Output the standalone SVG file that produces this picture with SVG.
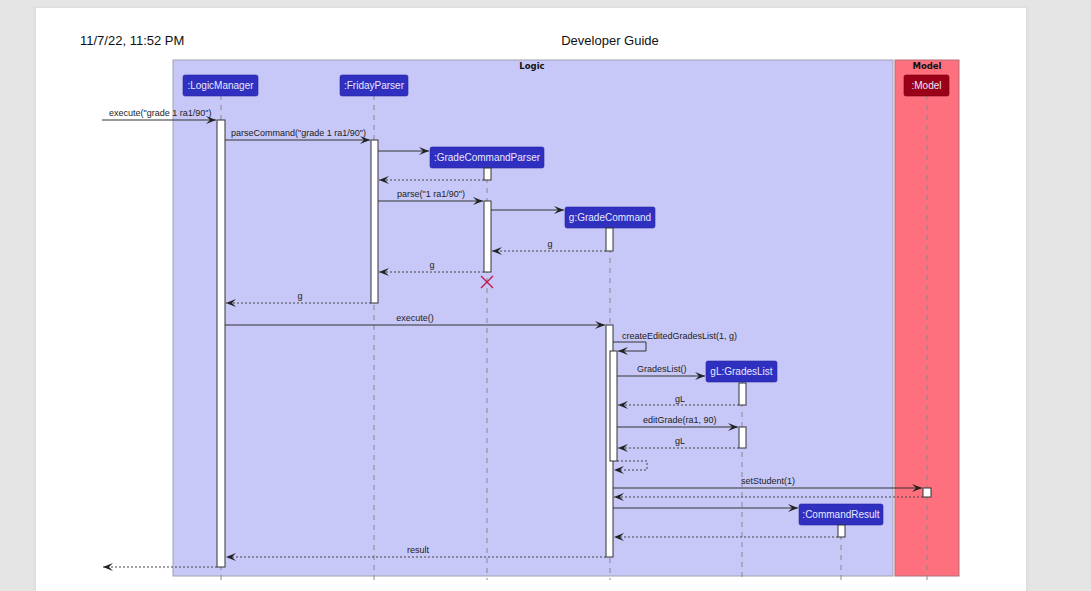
<svg xmlns="http://www.w3.org/2000/svg" width="1091" height="591" viewBox="0 0 1091 591">
<defs>
<style>
.lbl{font-family:"Liberation Sans",Arial,sans-serif;font-size:9px;fill:#222}
.pt{font-family:"Liberation Sans",Arial,sans-serif;font-size:10px;fill:#e8e8ff}
.hdr{font-family:"Liberation Sans",Arial,sans-serif;font-size:13px;fill:#111}
.ttl{font-family:"DejaVu Sans",sans-serif;font-size:8.5px;font-weight:bold;fill:#111}
.life{stroke:#888;stroke-width:1;stroke-dasharray:5,5;fill:none}
.msg{stroke:#333;stroke-width:1;fill:none}
.ret{stroke:#444;stroke-width:1;stroke-dasharray:2,2;fill:none}
.act{fill:#fff;stroke:#333;stroke-width:1}
.pbox{fill:#3030c0;stroke:#2626a0;stroke-width:0.6}
</style>
<marker id="ah" viewBox="0 0 10 8" refX="10" refY="4" markerWidth="10" markerHeight="8" markerUnits="userSpaceOnUse" orient="auto">
<polygon points="0,0 10,4 0,8 4,4" fill="#222"/>
</marker>
</defs>
<rect x="0" y="0" width="1091" height="591" fill="#e5e5e5"/>
<rect x="33" y="6" width="996" height="590" fill="#dcdcdc" opacity="0.6"/>
<rect x="36" y="8" width="990" height="590" fill="#ffffff"/>
<text class="hdr" x="80" y="45">11/7/22, 11:52 PM</text>
<text class="hdr" x="610" y="45" text-anchor="middle">Developer Guide</text>

<g id="box-logic">
<rect x="173" y="60" width="720" height="516" fill="#c8c8f8" stroke="#a0a0b0" stroke-width="1"/>
<text class="ttl" x="532" y="69" text-anchor="middle">Logic</text>
</g>
<g id="box-model">
<rect x="895" y="60" width="64" height="516" fill="#fe707e" stroke="#b07078" stroke-width="1"/>
<text class="ttl" x="927" y="69" text-anchor="middle">Model</text>
</g>

<g id="lifelines">
<line class="life" x1="221" y1="95" x2="221" y2="580"/>
<line class="life" x1="374" y1="95" x2="374" y2="580"/>
<line class="life" x1="487" y1="168" x2="487" y2="580"/>
<line class="life" x1="610" y1="228" x2="610" y2="580"/>
<line class="life" x1="742" y1="382" x2="742" y2="580"/>
<line class="life" x1="841" y1="525" x2="841" y2="580"/>
<line class="life" x1="927" y1="95" x2="927" y2="580"/>
</g>

<g id="p-logicmanager">
<rect class="pbox" x="183" y="75" width="75" height="21" rx="2"/>
<text class="pt" x="220.5" y="89" text-anchor="middle">:LogicManager</text>
</g>
<g id="p-fridayparser">
<rect class="pbox" x="340" y="75" width="68" height="21" rx="2"/>
<text class="pt" x="374" y="89" text-anchor="middle">:FridayParser</text>
</g>
<g id="p-gradecommandparser">
<rect class="pbox" x="430" y="147" width="114" height="21" rx="2"/>
<text class="pt" x="487" y="161" text-anchor="middle">:GradeCommandParser</text>
</g>
<g id="p-gradecommand">
<rect class="pbox" x="565" y="207" width="90" height="21" rx="2"/>
<text class="pt" x="610" y="221" text-anchor="middle">g:GradeCommand</text>
</g>
<g id="p-gradeslist">
<rect class="pbox" x="706" y="361" width="71" height="21" rx="2"/>
<text class="pt" x="741.5" y="375" text-anchor="middle">gL:GradesList</text>
</g>
<g id="p-commandresult">
<rect class="pbox" x="799" y="504" width="84" height="21" rx="2"/>
<text class="pt" x="841" y="518" text-anchor="middle">:CommandResult</text>
</g>
<g id="p-model">
<rect x="904" y="75" width="45" height="21" rx="2" fill="#9a0018" stroke="#7a0010" stroke-width="0.6"/>
<text class="pt" x="926.5" y="89" text-anchor="middle">:Model</text>
</g>

<g id="activations">
<rect class="act" x="217" y="120" width="8" height="447"/>
<rect class="act" x="371" y="140" width="7" height="163"/>
<rect class="act" x="484" y="168" width="7" height="12"/>
<rect class="act" x="484" y="201" width="7" height="71"/>
<rect class="act" x="606" y="228" width="7" height="23"/>
<rect class="act" x="606" y="325" width="7" height="232"/>
<rect class="act" x="610" y="351" width="7" height="110"/>
<rect class="act" x="739" y="383" width="7" height="22"/>
<rect class="act" x="739" y="427" width="7" height="21"/>
<rect class="act" x="923" y="488" width="8" height="9"/>
<rect class="act" x="838" y="525" width="7" height="12"/>
</g>

<g id="destroy">
<path d="M481,276 L493,288 M493,276 L481,288" stroke="#c0184a" stroke-width="1.4"/>
</g>

<g id="connectors">
<line class="msg" x1="102" y1="120" x2="216" y2="120" marker-end="url(#ah)"/>
<line class="msg" x1="225" y1="140" x2="370" y2="140" marker-end="url(#ah)"/>
<line class="msg" x1="378" y1="151" x2="429" y2="151" marker-end="url(#ah)"/>
<line class="ret" x1="484" y1="180" x2="379" y2="180" marker-end="url(#ah)"/>
<line class="msg" x1="378" y1="201" x2="483" y2="201" marker-end="url(#ah)"/>
<line class="msg" x1="491" y1="210" x2="564" y2="210" marker-end="url(#ah)"/>
<line class="ret" x1="606" y1="251" x2="492" y2="251" marker-end="url(#ah)"/>
<line class="ret" x1="484" y1="272" x2="379" y2="272" marker-end="url(#ah)"/>
<line class="ret" x1="371" y1="303" x2="226" y2="303" marker-end="url(#ah)"/>
<line class="msg" x1="225" y1="325" x2="605" y2="325" marker-end="url(#ah)"/>
<polyline class="msg" points="613,342 646,342 646,351 618,351" marker-end="url(#ah)"/>
<line class="msg" x1="617" y1="376" x2="705" y2="376" marker-end="url(#ah)"/>
<line class="ret" x1="739" y1="405" x2="618" y2="405" marker-end="url(#ah)"/>
<line class="msg" x1="617" y1="427" x2="738" y2="427" marker-end="url(#ah)"/>
<line class="ret" x1="739" y1="448" x2="618" y2="448" marker-end="url(#ah)"/>
<polyline class="ret" points="617,461 647,461 647,470 614,470" marker-end="url(#ah)"/>
<line class="msg" x1="613" y1="488" x2="922" y2="488" marker-end="url(#ah)"/>
<line class="ret" x1="923" y1="497" x2="614" y2="497" marker-end="url(#ah)"/>
<line class="msg" x1="613" y1="508" x2="798" y2="508" marker-end="url(#ah)"/>
<line class="ret" x1="838" y1="537" x2="614" y2="537" marker-end="url(#ah)"/>
<line class="ret" x1="606" y1="557" x2="226" y2="557" marker-end="url(#ah)"/>
<line class="ret" x1="217" y1="567" x2="103" y2="567" marker-end="url(#ah)"/>
</g>

<g id="labels">
<text class="lbl" x="109" y="116">execute("grade 1 ra1/90")</text>
<text class="lbl" x="231" y="136">parseCommand("grade 1 ra1/90")</text>
<text class="lbl" x="397" y="197">parse("1 ra1/90")</text>
<text class="lbl" x="550" y="247" text-anchor="middle">g</text>
<text class="lbl" x="432" y="268" text-anchor="middle">g</text>
<text class="lbl" x="300" y="299" text-anchor="middle">g</text>
<text class="lbl" x="415" y="321" text-anchor="middle">execute()</text>
<text class="lbl" x="622" y="339">createEditedGradesList(1, g)</text>
<text class="lbl" x="637" y="372">GradesList()</text>
<text class="lbl" x="680" y="402" text-anchor="middle">gL</text>
<text class="lbl" x="643" y="423">editGrade(ra1, 90)</text>
<text class="lbl" x="680" y="444" text-anchor="middle">gL</text>
<text class="lbl" x="741" y="484">setStudent(1)</text>
<text class="lbl" x="418" y="553" text-anchor="middle">result</text>
</g>
</svg>
